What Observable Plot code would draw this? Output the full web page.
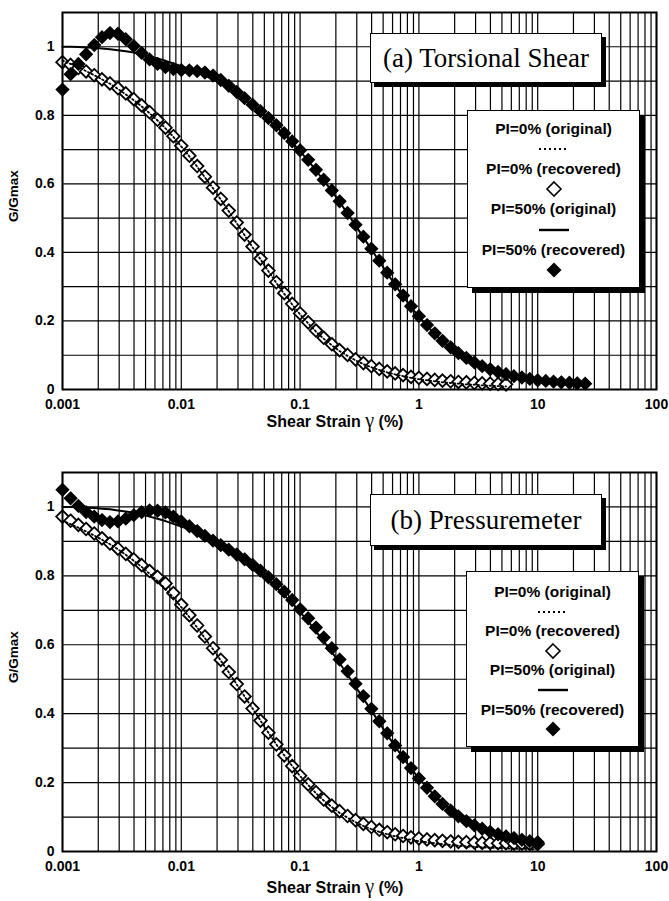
<!DOCTYPE html>
<html>
<head>
<meta charset="utf-8">
<script src="https://cdn.jsdelivr.net/npm/d3@7"></script>
<script src="https://cdn.jsdelivr.net/npm/@observablehq/plot@0.6"></script>
<style>
  body { margin: 0; background: #fff; }
  #chart { position: relative; width: 669px; height: 901px; overflow: hidden; background: #fff;
           font-family: "Liberation Sans", Arial, sans-serif; color: #000; }
  .panel { position: absolute; left: 0; }
  .ytitle { position: absolute; font-weight: bold; font-size: 13.5px; white-space: nowrap;
            transform: translate(-50%, -50%) rotate(-90deg); }
  .xtitle { position: absolute; font-weight: bold; font-size: 16px; white-space: nowrap;
            transform: translate(-50%, -50%); }
  .xtitle .g { font-family: "Liberation Serif", serif; font-weight: normal; font-size: 20px; }
  .tag { position: absolute; box-sizing: border-box; border: 1.5px solid #000; background: #fff;
         box-shadow: 4px 4px 0 #000; display: flex; align-items: center; justify-content: center;
         font-family: "Liberation Serif", "Times New Roman", serif; font-size: 27px; white-space: nowrap; }
  .legend { position: absolute; box-sizing: border-box; border: 1.5px solid #000; background: #fff;
            box-shadow: 5px 5px 0 #000; }
  .legend .row { position: absolute; left: 0; right: 0; height: 20px; display: flex;
                 align-items: center; justify-content: center; transform: translateY(-50%);
                 font-weight: bold; font-size: 15.5px; white-space: nowrap; }
</style>
</head>
<body>
<div id="chart"></div>
<script>
// Shear strain (%) at which every curve is sampled
const strain = [
  0.001, 0.00117, 0.00136, 0.00158, 0.00185, 0.00215, 0.00251, 0.00293, 0.00341, 0.00398, 0.00464, 0.00541, 0.00631, 0.00736, 0.00858,
  0.01, 0.0117, 0.0136, 0.0158, 0.0185, 0.0215, 0.0251, 0.0293, 0.0341, 0.0398, 0.0464, 0.0541, 0.0631, 0.0736, 0.0858,
  0.1, 0.117, 0.136, 0.158, 0.185, 0.215, 0.251, 0.293, 0.341, 0.398, 0.464, 0.541, 0.631, 0.736, 0.858,
  1, 1.17, 1.36, 1.58, 1.85, 2.15, 2.51, 2.93, 3.41, 3.98, 4.64, 5.41, 6.31, 7.36, 8.58,
  10, 11.7, 13.6, 15.8, 18.5, 21.5, 25.1
];

// Original modulus reduction curves, PI = 0% and PI = 50%
const originalPI0 = [
  0.960, 0.950, 0.940, 0.929, 0.917, 0.905, 0.892, 0.877, 0.861, 0.844, 0.826, 0.806, 0.785, 0.762, 0.737,
  0.709, 0.680, 0.650, 0.619, 0.587, 0.554, 0.520, 0.485, 0.450, 0.415, 0.380, 0.345, 0.311, 0.279, 0.248,
  0.219, 0.193, 0.169, 0.148, 0.129, 0.112, 0.098, 0.085, 0.074, 0.065, 0.057, 0.050, 0.044, 0.039, 0.034,
  0.030, 0.027, 0.024, 0.021, 0.019, 0.017, 0.015, 0.014, 0.012, 0.011, 0.010, 0.009, 0.008, 0.008, 0.007,
  0.006
];
const originalPI50 = [
  1.000, 1.000, 0.999, 0.998, 0.997, 0.995, 0.993, 0.990, 0.987, 0.983, 0.978, 0.972, 0.966, 0.959, 0.951,
  0.943, 0.935, 0.926, 0.916, 0.905, 0.893, 0.879, 0.863, 0.846, 0.828, 0.809, 0.789, 0.767, 0.744, 0.721,
  0.695, 0.668, 0.639, 0.610, 0.579, 0.547, 0.513, 0.479, 0.444, 0.409, 0.374, 0.339, 0.305, 0.272, 0.241,
  0.212, 0.186, 0.162, 0.140, 0.121, 0.104, 0.090, 0.077, 0.066, 0.057, 0.049, 0.043, 0.037, 0.033, 0.029,
  0.026, 0.024, 0.022, 0.020, 0.019, 0.017, 0.016
];

// (a) Torsional shear: recovered curves
const torsionalPI0 = [
  0.955, 0.947, 0.938, 0.928, 0.917, 0.905, 0.893, 0.879, 0.864, 0.847, 0.829, 0.809, 0.787, 0.764, 0.739,
  0.711, 0.682, 0.652, 0.621, 0.589, 0.556, 0.522, 0.487, 0.452, 0.417, 0.382, 0.347, 0.313, 0.281, 0.250,
  0.222, 0.196, 0.172, 0.151, 0.132, 0.115, 0.101, 0.088, 0.077, 0.068, 0.060, 0.053, 0.047, 0.042, 0.037,
  0.034, 0.031, 0.028, 0.026, 0.024, 0.022, 0.021, 0.019, 0.018, 0.017, 0.016, 0.015
];
const torsionalPI50 = [
  0.875, 0.920, 0.950, 0.978, 1.005, 1.028, 1.040, 1.038, 1.022, 1.002, 0.982, 0.963, 0.950, 0.941, 0.935,
  0.932, 0.931, 0.929, 0.925, 0.916, 0.903, 0.886, 0.868, 0.850, 0.831, 0.812, 0.792, 0.771, 0.748, 0.724,
  0.698, 0.670, 0.641, 0.612, 0.581, 0.549, 0.515, 0.481, 0.446, 0.411, 0.376, 0.341, 0.307, 0.274, 0.243,
  0.214, 0.188, 0.164, 0.142, 0.123, 0.106, 0.092, 0.079, 0.068, 0.059, 0.051, 0.045, 0.039, 0.035, 0.031,
  0.027, 0.025, 0.023, 0.021, 0.020, 0.018, 0.017
];

// (b) Pressuremeter: recovered curves
const pressuremeterPI0 = [
  0.972, 0.960, 0.948, 0.936, 0.923, 0.909, 0.894, 0.879, 0.864, 0.848, 0.831, 0.814, 0.797, 0.778, 0.750,
  0.716, 0.686, 0.656, 0.624, 0.590, 0.556, 0.521, 0.486, 0.450, 0.415, 0.380, 0.345, 0.311, 0.279, 0.248,
  0.220, 0.195, 0.172, 0.151, 0.133, 0.117, 0.103, 0.091, 0.080, 0.071, 0.063, 0.056, 0.050, 0.045, 0.041,
  0.038, 0.035, 0.033, 0.031, 0.029, 0.028, 0.027, 0.026, 0.025, 0.025, 0.024, 0.024, 0.023, 0.023, 0.022,
  0.022
];
const pressuremeterPI50 = [
  1.050, 1.025, 1.003, 0.985, 0.972, 0.962, 0.956, 0.958, 0.966, 0.976, 0.985, 0.990, 0.989, 0.984, 0.972,
  0.958, 0.944, 0.930, 0.916, 0.902, 0.889, 0.876, 0.862, 0.848, 0.832, 0.815, 0.796, 0.776, 0.754, 0.730,
  0.703, 0.677, 0.650, 0.621, 0.590, 0.557, 0.523, 0.487, 0.451, 0.414, 0.378, 0.343, 0.308, 0.274, 0.242,
  0.212, 0.185, 0.160, 0.138, 0.119, 0.102, 0.088, 0.076, 0.066, 0.057, 0.050, 0.044, 0.039, 0.034, 0.030,
  0.027
];

// Axis ticks and labels
const xTicks = [0.001, 0.01, 0.1, 1, 10, 100];
const xTickLabels = ["0.001", "0.01", "0.1", "1", "10", "100"];
const yTicks = [0, 0.2, 0.4, 0.6, 0.8, 1];
const yTickLabels = ["0", "0.2", "0.4", "0.6", "0.8", "1"];
const xGrid = [1, 2, 3, 4, 5, 6, 7, 8, 9].flatMap(m => [1e-3, 1e-2, 1e-1, 1, 10].map(d => m * d)).concat([100]);
const yGrid = [0.1, 0.2, 0.3, 0.4, 0.5, 0.6, 0.7, 0.8, 0.9, 1.0];

const legendLabels = ["PI=0% (original)", "PI=0% (recovered)", "PI=50% (original)", "PI=50% (recovered)"];
const panelTitles = ["(a) Torsional Shear", "(b) Pressuremeter"];
const xTitle = "Shear Strain";
const yTitle = "G/Gmax";

// Square diamond (a square turned 45 degrees)
const diamond = {
  draw(context, size) {
    const h = Math.sqrt(size / Math.PI);
    context.moveTo(0, -h);
    context.lineTo(h, 0);
    context.lineTo(0, h);
    context.lineTo(-h, 0);
    context.closePath();
  }
};

const toRows = (ys) => ys.map((g, i) => ({strain: strain[i], g}));

function panel({rec0, rec50, height, marginTop, marginBottom}) {
  const orig0 = toRows(originalPI0).slice(0, rec0.length);
  const orig50 = toRows(originalPI50).slice(0, rec50.length);
  return Plot.plot({
    width: 669,
    height,
    marginLeft: 62,
    marginRight: 13,
    marginTop,
    marginBottom,
    style: {fontFamily: "'Liberation Sans', Arial, sans-serif", fontSize: "14px", fontWeight: "bold", color: "#000", background: "transparent"},
    x: {type: "log", domain: [0.001, 100], ticks: xTicks, tickFormat: d => xTickLabels[xTicks.indexOf(d)],
        tickSize: 0, tickPadding: 10, label: null},
    y: {domain: [0, 1.1], ticks: yTicks, tickFormat: d => yTickLabels[yTicks.indexOf(d)],
        tickSize: 0, tickPadding: 8, label: null},
    marks: [
      Plot.ruleX(xGrid, {stroke: "#000", strokeWidth: 1.2, strokeOpacity: 1}),
      Plot.ruleY(yGrid, {stroke: "#000", strokeWidth: 1.2, strokeOpacity: 1}),
      Plot.dot(toRows(rec0), {x: "strain", y: "g", symbol: diamond, r: 6.3, fill: "#fff", stroke: "#000", strokeWidth: 1.8}),
      Plot.line(orig0, {x: "strain", y: "g", stroke: "#000", strokeWidth: 1.8, strokeDasharray: "1.5,2.5"}),
      Plot.line(orig50, {x: "strain", y: "g", stroke: "#000", strokeWidth: 2}),
      Plot.dot(toRows(rec50), {x: "strain", y: "g", symbol: diamond, r: 6.3, fill: "#000", stroke: "#000", strokeWidth: 1.2}),
      Plot.frame({stroke: "#000", strokeWidth: 2})
    ]
  });
}

const chart = document.getElementById("chart");

function place(el, top) {
  el.classList.add("panel");
  el.style.top = top + "px";
  chart.appendChild(el);
}

place(panel({rec0: torsionalPI0, rec50: torsionalPI50, height: 430, marginTop: 12, marginBottom: 41}), 0);
place(panel({rec0: pressuremeterPI0, rec50: pressuremeterPI50, height: 471, marginTop: 42, marginBottom: 50}), 430);

function addDiv(cls, css, html) {
  const d = document.createElement("div");
  d.className = cls;
  Object.assign(d.style, css);
  d.innerHTML = html;
  chart.appendChild(d);
  return d;
}

// Axis titles
addDiv("ytitle", {left: "13px", top: "196px"}, yTitle);
addDiv("ytitle", {left: "13px", top: "657px"}, yTitle);
addDiv("xtitle", {left: "335px", top: "420px"}, `${xTitle} <span class="g">γ</span> (%)`);
addDiv("xtitle", {left: "335px", top: "886px"}, `${xTitle} <span class="g">γ</span> (%)`);

// Panel titles
addDiv("tag", {left: "370px", top: "33px", width: "232px", height: "50px"}, panelTitles[0]);
addDiv("tag", {left: "370px", top: "494px", width: "232px", height: "52px"}, panelTitles[1]);

// Legend swatches
const swatch = {
  dotted: `<svg width="36" height="8"><line x1="3" x2="33" y1="4" y2="4" stroke="#000" stroke-width="2.2" stroke-dasharray="2,3"/></svg>`,
  open: `<svg width="18" height="18"><path d="M9,2L16,9L9,16L2,9Z" fill="#fff" stroke="#000" stroke-width="1.6"/></svg>`,
  solid: `<svg width="40" height="8"><line x1="5" x2="35" y1="4" y2="4" stroke="#000" stroke-width="2.4"/></svg>`,
  filled: `<svg width="18" height="18"><path d="M9,1.5L16.5,9L9,16.5L1.5,9Z" fill="#000"/></svg>`
};
const swatchOrder = ["dotted", "open", "solid", "filled"];

function legend(left, top, height, first, step) {
  const box = addDiv("legend", {left: left + "px", top: top + "px", width: "173px", height: height + "px"}, "");
  legendLabels.forEach((label, i) => {
    const t = document.createElement("div");
    t.className = "row";
    t.style.top = (first + step * 2 * i) + "px";
    t.textContent = label;
    box.appendChild(t);
    const s = document.createElement("div");
    s.className = "row";
    s.style.top = (first + step * (2 * i + 1)) + "px";
    s.innerHTML = swatch[swatchOrder[i]];
    box.appendChild(s);
  });
}
legend(467, 110, 178, 18, 20.1);
legend(466, 571, 176, 20, 19.6);
</script>
</body>
</html>
